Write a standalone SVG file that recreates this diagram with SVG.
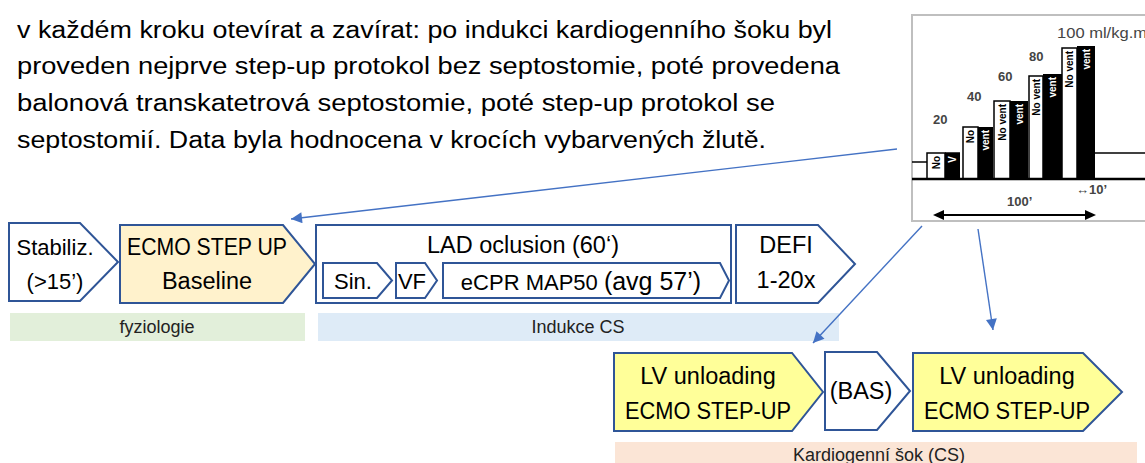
<svg xmlns="http://www.w3.org/2000/svg" width="1145" height="463" viewBox="0 0 1145 463">
<defs>
<style>
.t{font-family:"Liberation Sans",Arial,sans-serif;fill:#000}
.box{stroke:#2F5597;stroke-width:2;stroke-linejoin:miter}
.w{fill:#fff}
.y{fill:#FFFF99}
.o{fill:#FFF2CC}
.body{font-size:23px}
.lbl{font-size:22px;text-anchor:middle}
.lbl2{font-size:23.5px;text-anchor:middle}
.band{font-size:18px;text-anchor:middle;fill:#222}
.conn{stroke:#4472C4;stroke-width:1.4;fill:none}
.ink{stroke:#000;fill:none}
.num{font-family:"Liberation Sans",Arial,sans-serif;font-size:13px;font-weight:bold;fill:#444}
.big{font-size:14px;font-weight:normal}
.bt{font-family:"Liberation Sans",Arial,sans-serif;font-size:10px;font-weight:bold;text-anchor:end}
</style>
<marker id="ah" viewBox="0 0 10 10" refX="10" refY="5" markerUnits="userSpaceOnUse" markerWidth="14" markerHeight="11" orient="auto">
<path d="M0,0 L10,5 L0,10 z" fill="#4472C4"/>
</marker>
</defs>

<g id="intro-text" class="t body">
<text x="17" y="38" textLength="815" lengthAdjust="spacingAndGlyphs">v každém kroku otevírat a zavírat: po indukci kardiogenního šoku byl</text>
<text x="17" y="74" textLength="823" lengthAdjust="spacingAndGlyphs">proveden nejprve step-up protokol bez septostomie, poté provedena</text>
<text x="17" y="111" textLength="758" lengthAdjust="spacingAndGlyphs">balonová transkatetrová septostomie, poté step-up protokol se</text>
<text x="17" y="148" textLength="749" lengthAdjust="spacingAndGlyphs">septostomií. Data byla hodnocena v krocích vybarvených žlutě.</text>
</g>

<g id="inset-chart">
<rect x="912" y="15" width="240" height="206" fill="#fff" stroke="#BFBFBF" stroke-width="2"/>
<line class="ink" x1="912" y1="162" x2="927" y2="162" stroke-width="1.5"/>
<line class="ink" x1="1095" y1="153" x2="1145" y2="153" stroke-width="1.5"/>
<rect x="927" y="153" width="18" height="26" fill="#fff" stroke="#000" stroke-width="1.5"/>
<rect x="945" y="153" width="15" height="26" fill="#000"/>
<rect x="963" y="127" width="15" height="52" fill="#fff" stroke="#000" stroke-width="1.5"/>
<rect x="978" y="127" width="15" height="52" fill="#000"/>
<rect x="994" y="101" width="16" height="78" fill="#fff" stroke="#000" stroke-width="1.5"/>
<rect x="1010" y="101" width="18" height="78" fill="#000"/>
<rect x="1029" y="76" width="14" height="103" fill="#fff" stroke="#000" stroke-width="1.5"/>
<rect x="1043" y="74" width="19" height="105" fill="#000"/>
<rect x="1062" y="48" width="15" height="131" fill="#fff" stroke="#000" stroke-width="1.5"/>
<rect x="1077" y="46" width="18" height="133" fill="#000"/>
<line class="ink" x1="945" y1="153" x2="960" y2="153" stroke-width="1.5"/>
<line class="ink" x1="912" y1="179" x2="1145" y2="179" stroke-width="2.5"/>
<text class="bt" transform="translate(939.5,156) rotate(-90)" fill="#000">No</text>
<text class="bt" transform="translate(956,156) rotate(-90)" fill="#fff">V</text>
<text class="bt" transform="translate(974,130) rotate(-90)" fill="#000">No</text>
<text class="bt" transform="translate(989,130) rotate(-90)" fill="#fff">vent</text>
<text class="bt" transform="translate(1005.5,104) rotate(-90)" fill="#000">No vent</text>
<text class="bt" transform="translate(1023,104) rotate(-90)" fill="#fff">vent</text>
<text class="bt" transform="translate(1039.5,79) rotate(-90)" fill="#000">No vent</text>
<text class="bt" transform="translate(1056,77) rotate(-90)" fill="#fff">vent</text>
<text class="bt" transform="translate(1073,51) rotate(-90)" fill="#000">No vent</text>
<text class="bt" transform="translate(1090,49) rotate(-90)" fill="#fff">vent</text>
<text class="num" x="933" y="124">20</text>
<text class="num" x="967" y="101">40</text>
<text class="num" x="998" y="81">60</text>
<text class="num" x="1029" y="61">80</text>
<text class="num big" x="1057" y="38" textLength="90" lengthAdjust="spacingAndGlyphs">100 ml/kg.m</text>
<text class="num" x="1076" y="194" font-size="15">↔10’</text>
<text class="num" x="1007" y="206" font-size="14">100’</text>
<line x1="940" y1="215" x2="1090" y2="215" stroke="#000" stroke-width="2"/>
<path d="M933,215 L944,210 L944,220 z" fill="#000"/>
<path d="M1096,215 L1085,210 L1085,220 z" fill="#000"/>
</g>

<g id="node-stabiliz">
<polygon class="box w" points="9,223 80,223 118,262 80,301 9,301"/>
<text class="t lbl" x="55" y="255">Stabiliz.</text>
<text class="t lbl" x="55" y="289">(&gt;15’)</text>
</g>

<g id="node-ecmo-baseline">
<polygon class="box o" points="120,225 283,225 315,264 283,303 120,303"/>
<text class="t lbl2" x="207" y="255" textLength="160" lengthAdjust="spacingAndGlyphs">ECMO STEP UP</text>
<text class="t lbl2" x="207" y="289">Baseline</text>
</g>

<g id="node-lad">
<rect class="box w" x="316" y="225" width="415" height="78"/>
<text class="t lbl2" x="523" y="253">LAD oclusion (60‘)</text>
</g>

<g id="node-sin">
<polygon class="box w" points="323,263 377,263 392,280.5 377,298 323,298"/>
<text class="t lbl" x="353" y="289">Sin.</text>
</g>

<g id="node-vf">
<polygon class="box w" points="396,263 425,263 437,280.5 425,298 396,298"/>
<text class="t lbl" x="412" y="289">VF</text>
</g>

<g id="node-ecpr">
<polygon class="box w" points="443,263 720,263 729,280.5 720,298 443,298"/>
<text class="t lbl" x="581" y="290">eCPR MAP50 <tspan font-size="25">(avg 57’)</tspan></text>
</g>

<g id="node-defi">
<polygon class="box w" points="736,225 818,225 855,264 818,303 736,303"/>
<text class="t lbl2" x="786" y="253">DEFI</text>
<text class="t lbl2" x="786" y="288">1-20x</text>
</g>

<g id="band-fyziologie">
<rect x="10" y="313" width="295" height="28" fill="#E2EFDA"/>
<text class="t band" x="157" y="333">fyziologie</text>
</g>

<g id="band-indukce">
<rect x="318" y="313" width="521" height="28" fill="#DEEBF7"/>
<text class="t band" x="578" y="333">Indukce CS</text>
</g>

<g id="node-lv1">
<polygon class="box y" points="614,353 792,353 823,392 792,431 614,431"/>
<text class="t lbl2" x="708" y="384">LV unloading</text>
<text class="t lbl2" x="708" y="419" textLength="166" lengthAdjust="spacingAndGlyphs">ECMO STEP-UP</text>
</g>

<g id="node-bas">
<polygon class="box w" points="825,352 877,352 910,391 877,430 825,430"/>
<text class="t lbl2" x="861" y="399">(BAS)</text>
</g>

<g id="node-lv2">
<polygon class="box y" points="913,353 1083,353 1122,392 1083,431 913,431"/>
<text class="t lbl2" x="1007" y="384">LV unloading</text>
<text class="t lbl2" x="1007" y="419" textLength="166" lengthAdjust="spacingAndGlyphs">ECMO STEP-UP</text>
</g>

<g id="band-ks">
<rect x="615" y="442" width="522" height="30" fill="#FBE5D6"/>
<text class="t band" x="879" y="461">Kardiogenní šok (CS)</text>
</g>

<g id="connectors">
<line class="conn" x1="897" y1="149" x2="291" y2="219" marker-end="url(#ah)"/>
<line class="conn" x1="922" y1="226" x2="813" y2="343" marker-end="url(#ah)"/>
<line class="conn" x1="978" y1="229" x2="993" y2="330" marker-end="url(#ah)"/>
</g>
</svg>
